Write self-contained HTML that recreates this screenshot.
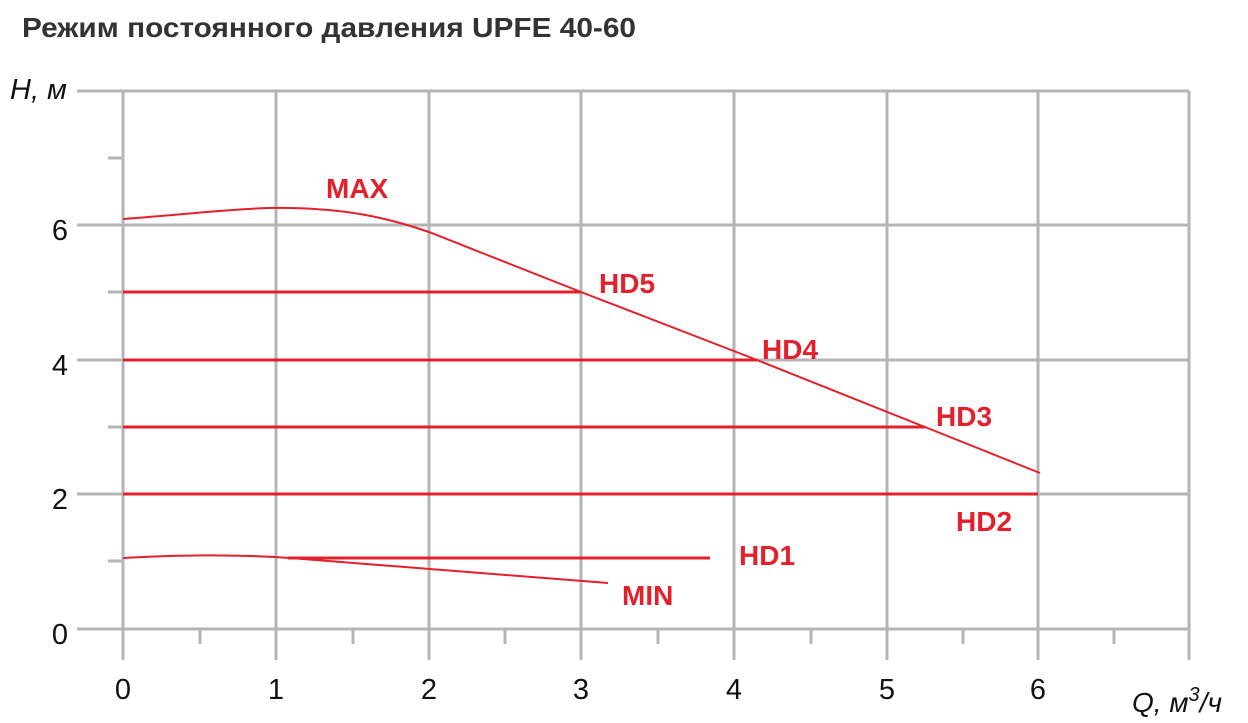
<!DOCTYPE html>
<html><head><meta charset="utf-8"><style>
body{margin:0;background:#fff;width:1248px;height:723px;overflow:hidden}
svg{display:block}
text{font-family:"Liberation Sans",sans-serif}
</style></head><body>
<svg width="1248" height="723" viewBox="0 0 1248 723">
<text x="22" y="37" font-size="28" font-weight="bold" fill="#333" textLength="614" lengthAdjust="spacingAndGlyphs">Режим постоянного давления UPFE 40-60</text>
<g stroke="#b5b5b7" stroke-width="3" fill="none">
<path d="M123 91V660M276 91V660M429 91V660M581 91V660M734 91V660M887 91V660M1038 91V660M1189 91V660"/>
<path d="M77 91H1189M77 225H1189M77 360H1189M77 494H1189M77 629H1189"/>
<path d="M108 158H123M108 292H123M108 427H123M108 561H123"/>
<path d="M200 629V644M353 629V644M505 629V644M658 629V644M811 629V644M963 629V644M1114 629V644"/>
</g>
<g font-size="29" fill="#111" text-anchor="middle">
<text x="123" y="699">0</text><text x="276" y="699">1</text><text x="429" y="699">2</text><text x="581" y="699">3</text><text x="734" y="699">4</text><text x="887" y="699">5</text><text x="1038" y="699">6</text>
<text x="68" y="240" text-anchor="end">6</text><text x="68" y="375" text-anchor="end">4</text><text x="68" y="509" text-anchor="end">2</text><text x="68" y="644" text-anchor="end">0</text>
</g>
<text x="10" y="99" font-size="29" font-style="italic" fill="#111">H, м</text>
<text x="1132" y="712" font-size="28" font-style="italic" fill="#111">Q, м<tspan dy="-11" font-size="20">3</tspan><tspan dy="11">/ч</tspan></text>
<g stroke="#e3202b" fill="none">
<path stroke-width="2" d="M123 219 C200 213 250 207 290 208 C340 209 380 215 429 232 L581 292 L757 360 L925 427 L1040 473"/>
<path stroke-width="2" d="M123 558 C180 555 230 554 290 558 L608 583"/>
<path stroke-width="3" d="M123 292H581M123 360H757M123 427H925M123 494H1038M288 558H710"/>
</g>
<g font-size="28" font-weight="bold" fill="#e3202b">
<text x="326" y="198">MAX</text>
<text x="599" y="293">HD5</text>
<text x="762" y="359">HD4</text>
<text x="936" y="426">HD3</text>
<text x="956" y="531">HD2</text>
<text x="739" y="565">HD1</text>
<text x="622" y="605">MIN</text>
</g>
</svg>
</body></html>
